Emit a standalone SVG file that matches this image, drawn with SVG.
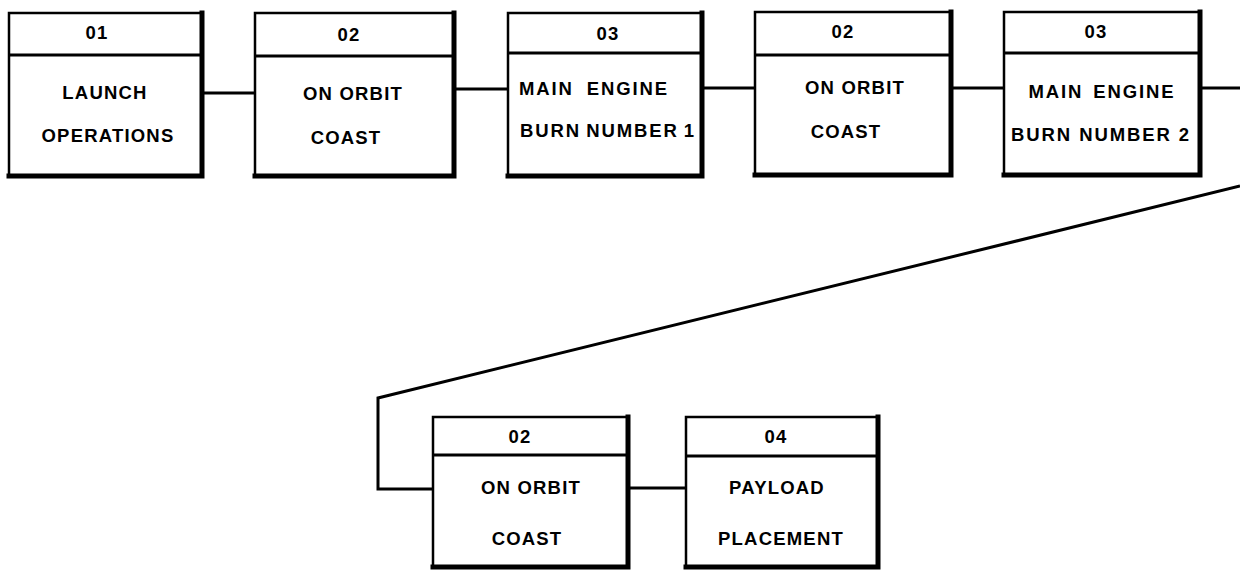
<svg xmlns="http://www.w3.org/2000/svg" width="1240" height="571" viewBox="0 0 1240 571">
  <style>
    .frame { fill: #fff; stroke: #000; stroke-width: 2.5; }
    .shade { fill: none; stroke: #000; stroke-width: 5; stroke-linecap: square; }
    .rule { stroke: #000; stroke-width: 3; }
    .wire { fill: none; stroke: #000; stroke-width: 3; stroke-linejoin: miter; }
    .lbl { font-family: "Liberation Sans", Arial, sans-serif; font-size: 18.5px; font-weight: bold; letter-spacing: 1.2px; text-anchor: middle; fill: #000; }
    .wide { letter-spacing: 1.9px; }
  </style>

  <!-- phase links -->
  <g id="connectors">
    <line class="wire" x1="202" y1="93" x2="256" y2="93"/>
    <line class="wire" x1="454" y1="89" x2="509" y2="89"/>
    <line class="wire" x1="702" y1="88" x2="756" y2="88"/>
    <line class="wire" x1="951" y1="88" x2="1005" y2="88"/>
    <line class="wire" x1="1200" y1="88" x2="1240" y2="88"/>
    <polyline class="wire" points="1240,186 378,398 378,489 434,489"/>
    <line class="wire" x1="628" y1="488" x2="687" y2="488"/>
  </g>

  <g id="n1">
    <rect class="frame" x="9" y="13" width="193" height="163"/>
    <polyline class="shade" points="202,13 202,176 9,176"/>
    <line class="rule" x1="9" y1="55" x2="202" y2="55"/>
    <text class="lbl" x="97" y="39">01</text>
    <text class="lbl" x="105" y="99">LAUNCH</text>
    <text class="lbl" x="108" y="142">OPERATIONS</text>
  </g>

  <g id="n2">
    <rect class="frame" x="255" y="13" width="199" height="163"/>
    <polyline class="shade" points="454,13 454,176 255,176"/>
    <line class="rule" x1="255" y1="56" x2="454" y2="56"/>
    <text class="lbl" x="349" y="41">02</text>
    <text class="lbl" x="353" y="100">ON ORBIT</text>
    <text class="lbl" x="346" y="144">COAST</text>
  </g>

  <g id="n3">
    <rect class="frame" x="508" y="13" width="194" height="163"/>
    <polyline class="shade" points="702,13 702,176 508,176"/>
    <line class="rule" x1="508" y1="53" x2="702" y2="53"/>
    <text class="lbl" x="608" y="40">03</text>
    <text class="lbl wide" x="594" y="95" word-spacing="6">MAIN ENGINE</text>
    <text class="lbl wide" x="608" y="137" word-spacing="-2">BURN NUMBER 1</text>
  </g>

  <g id="n4">
    <rect class="frame" x="755" y="12" width="196" height="163"/>
    <polyline class="shade" points="951,12 951,175 755,175"/>
    <line class="rule" x1="755" y1="55" x2="951" y2="55"/>
    <text class="lbl" x="843" y="38">02</text>
    <text class="lbl" x="855" y="94">ON ORBIT</text>
    <text class="lbl" x="846" y="138">COAST</text>
  </g>

  <g id="n5">
    <rect class="frame" x="1004" y="12" width="196" height="163"/>
    <polyline class="shade" points="1200,12 1200,175 1004,175"/>
    <line class="rule" x1="1004" y1="53" x2="1200" y2="53"/>
    <text class="lbl" x="1096" y="38">03</text>
    <text class="lbl wide" x="1102" y="98" word-spacing="3">MAIN ENGINE</text>
    <text class="lbl wide" x="1101" y="141">BURN NUMBER 2</text>
  </g>

  <g id="n6">
    <rect class="frame" x="433" y="417" width="195" height="150"/>
    <polyline class="shade" points="628,417 628,567 433,567"/>
    <line class="rule" x1="433" y1="455" x2="628" y2="455"/>
    <text class="lbl" x="520" y="443">02</text>
    <text class="lbl" x="531" y="494">ON ORBIT</text>
    <text class="lbl" x="527" y="545">COAST</text>
  </g>

  <g id="n7">
    <rect class="frame" x="686" y="417" width="192" height="150"/>
    <polyline class="shade" points="878,417 878,567 686,567"/>
    <line class="rule" x1="686" y1="456" x2="878" y2="456"/>
    <text class="lbl" x="776" y="443">04</text>
    <text class="lbl" x="777" y="494">PAYLOAD</text>
    <text class="lbl" x="781" y="545">PLACEMENT</text>
  </g>
</svg>
